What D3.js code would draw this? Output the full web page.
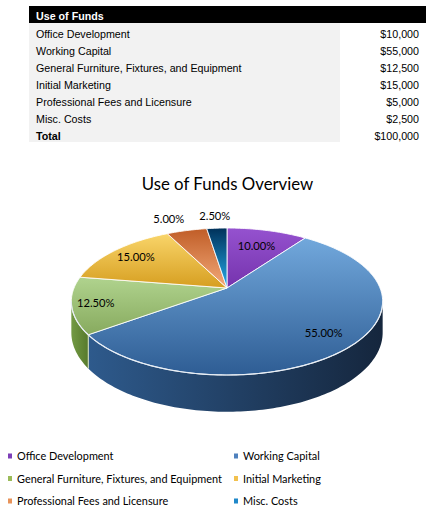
<!DOCTYPE html>
<html><head><meta charset="utf-8">
<script src="https://cdn.jsdelivr.net/npm/d3@7"></script>
<style>
html,body{margin:0;padding:0;background:#fff;}
svg{display:block;}
</style>
</head><body>
<svg id="c" width="435" height="517"></svg>
<script>
// ---- data ----
const tableTitle = "Use of Funds";
const categories = ["Office Development","Working Capital","General Furniture, Fixtures, and Equipment","Initial Marketing","Professional Fees and Licensure","Misc. Costs"];
const amounts = [10000, 55000, 12500, 15000, 5000, 2500];
const totalLabel = "Total";
const chartTitle = "Use of Funds Overview";

// ---- styles ----
const topColors = [["#9552cf","#7533ad"],["#72a8dc","#2e5d94"],["#b0d38e","#87aa5e"],["#f9d56a","#d69e20"],["#c05d27","#f3aa7a"],["#00315a","#25abe9"]];
const sideColors = [["#5a2a85","#3e1c5d"],["#2e5a8c","#15263d"],["#739a44","#577a2c"],["#c99a1d","#a07812"],["#c0602a","#8a4318"],["#006aa8","#004a78"]];
const legendColors = ["#7d3fb8","#4f81bd","#9bbb59","#f2c14e","#e8935a","#1f88c9"];

const svg = d3.select("#c");
const money = d3.format("$,");

// ---- table ----
const tX0 = 29, tX1 = 426, tGrey = 340, rowH = 17;
svg.append("rect").attr("x",tX0).attr("y",6).attr("width",tX1-tX0).attr("height",17).attr("fill","#000");
svg.append("text").attr("x",36).attr("y",20).attr("fill","#fff")
  .attr("font-family","Liberation Sans, Arial, sans-serif").attr("font-size",10.7).attr("font-weight","bold").text(tableTitle);
const rows = categories.map((c,i)=>({label:c, value:amounts[i], bold:false}));
rows.push({label:totalLabel, value:d3.sum(amounts), bold:true});
svg.append("rect").attr("x",tX0).attr("y",23).attr("width",tGrey-tX0).attr("height",rowH*rows.length).attr("fill","#f2f2f2");
const rowY = d3.scaleBand().domain(d3.range(rows.length)).range([23, 23+rowH*rows.length]);
rows.forEach((r,i)=>{
  svg.append("text").attr("x",36).attr("y",rowY(i)+15)
    .attr("font-family","Liberation Sans, Arial, sans-serif").attr("font-size",10.7)
    .attr("font-weight", r.bold?"bold":"normal").attr("fill","#000").text(r.label);
  svg.append("text").attr("x",419).attr("y",rowY(i)+15).attr("text-anchor","end")
    .attr("font-family","Liberation Sans, Arial, sans-serif").attr("font-size",10.7)
    .attr("fill","#000").text(money(r.value));
});

// ---- chart title ----
svg.append("text").attr("x",227.5).attr("y",190).attr("text-anchor","middle")
  .attr("font-family","Lato, Calibri, sans-serif").attr("font-size",16.8).attr("fill","#000").text(chartTitle);

// ---- 3D pie ----
const CX = 227, CY = 288, R = 153, B = 71, P = 0.184, H = 30;
function proj(theta, r, z){
  const u = r*Math.sin(theta), v = -r*Math.cos(theta);
  const s = 1/(1 - P*v);
  return [CX + R*u*s, CY + B*v*s + z*H*s];
}
const total = d3.sum(amounts);
const pie = d3.pie().sort(null).value(d=>d)(amounts);
const line = d3.line();
const defs = svg.append("defs");
function arcPts(a0,a1,z){
  const n = Math.max(2, Math.ceil((a1-a0)/0.02));
  return d3.range(n+1).map(k=>proj(a0+(a1-a0)*k/n,1,z));
}
const AL = Math.acos(-P), AR = 2*Math.PI - AL;

// sides
pie.forEach((d,i)=>{
  const a0 = Math.max(d.startAngle, AL), a1 = Math.min(d.endAngle, AR);
  if (a1 <= a0) return;
  const gid = "sg"+i;
  const g = defs.append("linearGradient").attr("id",gid).attr("x1","0").attr("y1","0").attr("x2","1").attr("y2","0");
  g.append("stop").attr("offset","0").attr("stop-color",sideColors[i][0]);
  g.append("stop").attr("offset","1").attr("stop-color",sideColors[i][1]);
  const pts = arcPts(a0,a1,0).concat(arcPts(a0,a1,1).reverse());
  svg.append("path").attr("d", line(pts)+"Z").attr("fill","url(#"+gid+")");
  [d.startAngle, d.endAngle].forEach(a=>{
    if (a > AL+0.01 && a < AR-0.01){
      svg.append("path").attr("d", line([proj(a,1,0),proj(a,1,1)])).attr("stroke","#dfe8d0").attr("stroke-width",1).attr("stroke-opacity",0.8);
    }
  });
});
// top faces
pie.forEach((d,i)=>{
  const gid = "tg"+i;
  const g = defs.append("linearGradient").attr("id",gid).attr("x1","0").attr("y1","0").attr("x2","0").attr("y2","1");
  g.append("stop").attr("offset","0").attr("stop-color",topColors[i][0]);
  g.append("stop").attr("offset","1").attr("stop-color",topColors[i][1]);
  const pts = [proj(0,0,0)].concat(arcPts(d.startAngle,d.endAngle,0));
  svg.append("path").attr("d", line(pts)+"Z").attr("fill","url(#"+gid+")")
    .attr("stroke","#ffffff").attr("stroke-width",1).attr("stroke-opacity",0.85).attr("stroke-linejoin","round");
});
// near rim highlight
svg.append("path").attr("d", line(arcPts(AL,AR,0))).attr("fill","none").attr("stroke","#e8eef5").attr("stroke-width",1.2);

// labels
const pct = d3.format(".2%");
const labels = pie.map((d,i)=>{
  const mid = (d.startAngle+d.endAngle)/2;
  const frac = d.value/total;
  const outside = frac < 0.06;
  const rr = outside ? 1.25 : (i===2 ? 0.85 : (i===0 ? 0.7 : 0.8));
  const p = proj(mid, rr, 0);
  return {text:pct(frac), x:p[0], y:p[1], outside};
});
const outs = labels.filter(l=>l.outside).sort((a,b)=>b.x-a.x);
const lw = 32, gap = 14;
for (let k=1;k<outs.length;k++){
  const prev = outs[k-1];
  if (outs[k].x + lw/2 > prev.x - lw/2 - gap) outs[k].x = prev.x - lw - gap;
}
labels.forEach(l=>{
  svg.append("text").attr("x",l.x).attr("y",l.y+4).attr("text-anchor","middle")
    .attr("font-family","Lato, Calibri, sans-serif").attr("font-size",11.2).attr("fill","#000").text(l.text);
});

// ---- legend ----
const colX = [8, 234];
const legY = d3.scalePoint().domain([0,1,2]).range([456, 501]);
categories.forEach((c,i)=>{
  const col = i%2, row = Math.floor(i/2);
  const y = legY(row);
  svg.append("rect").attr("x",colX[col]).attr("y",y-2.5).attr("width",4).attr("height",5).attr("fill",legendColors[i]);
  svg.append("text").attr("x",colX[col]+9).attr("y",y+4)
    .attr("font-family","Lato, Calibri, sans-serif").attr("font-size",10.9).attr("fill","#000").text(c);
});
</script>
</body></html>
